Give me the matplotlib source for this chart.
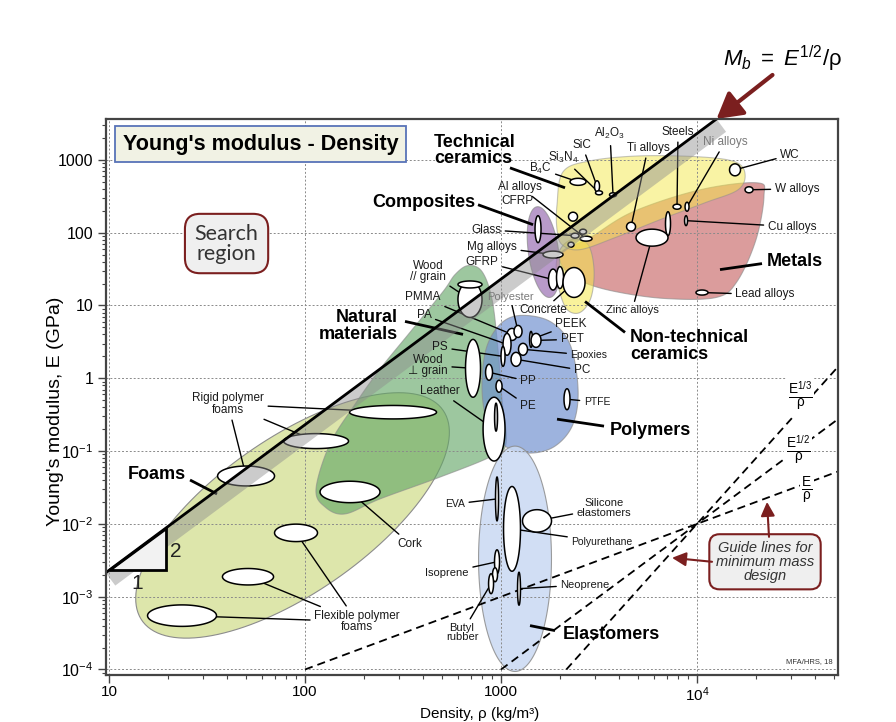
import numpy as np
import matplotlib
matplotlib.use("Agg")
import matplotlib.pyplot as plt

plt.rcParams['font.family'] = ['Liberation Sans', 'DejaVu Sans']
plt.rcParams['mathtext.fontset'] = 'custom'
plt.rcParams['mathtext.rm'] = 'Liberation Sans'
plt.rcParams['mathtext.it'] = 'Liberation Sans:italic'
plt.rcParams['mathtext.bf'] = 'Liberation Sans:bold'

# ---------------- data: material property bubbles (density kg/m3, modulus GPa) ----------------
mat_names = ["WC", "W alloys", "Lead alloys", "Cu alloys", "Ni alloys", "Steels", "Cast irons",
             "Ti alloys", "Zinc alloys", "Al2O3", "SiC", "Si3N4", "B4C", "Be alloys", "Al alloys",
             "Glass", "Al-SiC", "Mg-Zr", "Mg alloys", "CFRP", "GFRP", "GFRP-2", "Concrete",
             "Wood //", "Wood // end", "PMMA", "PA", "Polyester", "PEEK", "PET", "Epoxies", "PC",
             "PS", "PP", "PE", "PTFE", "Wood ⊥", "Leather", "Leather core", "Rigid foam A",
             "Rigid foam B", "Rigid foam C", "Cork", "Flexible foam A", "Flexible foam B",
             "Flexible foam C", "EVA", "Polyurethane", "Silicone elastomers", "Isoprene",
             "Natural rubber", "Butyl rubber", "Neoprene"]
mat_rho_lo = [14650, 17580, 9880, 8640, 8690, 7545, 6905, 4370, 4885, 3578, 3000, 3035, 2250, 2210,
              2531, 2276, 2515, 2197, 1638, 1491, 1747, 1919, 2072, 603, 603, 1073, 1024, 1165, 1398,
              1423, 1228, 1125, 1000, 834, 943, 2096, 659, 810, 927, 168.7, 77.7, 35.8, 119.3, 69.9,
              37.9, 15.72, 937.4, 1030, 1287, 926.5, 905, 864, 1214]
mat_rho_hi = [16670, 19310, 11380, 8945, 9105, 8285, 7325, 4857, 7112, 3885, 3182, 3295, 2715, 2457,
              2913, 2500, 2731, 2357, 2072, 1600, 1943, 2084, 2683, 800, 800, 1207, 1125, 1280, 1448,
              1600, 1365, 1265, 1048, 905, 1012, 2249, 786, 1048, 960, 468.8, 166.7, 69.9, 241.3, 115.8,
              69.1, 35.35, 971.2, 1257, 1810, 982.7, 960, 916, 1257]
mat_E_lo = [604, 353, 13.9, 125, 197, 210, 91, 105, 65.3, 311, 365, 331, 447, 144, 76.5, 84.1, 95.4,
            63.3, 44.8, 72.9, 16.3, 17.1, 12.9, 6.85, 17.4, 3.31, 2.07, 3.64, 2.66, 2.66, 2.07, 1.46,
            1.46, 0.939, 0.643, 0.370, 0.549, 0.0730, 0.188, 0.2765, 0.1082, 0.0332, 0.01955,
            0.005711, 0.001449, 0.000391, 0.011, 0.002235, 0.00771, 0.002066, 0.001605, 0.0011,
            0.000765]
mat_E_hi = [882, 427, 16.3, 171, 262, 246, 194, 139, 111.7, 353, 516, 376, 558, 191, 89.5, 98.4,
            111.7, 74.1, 55.8, 171, 31.6, 34.2, 33.2, 21.3, 21.7, 4.84, 4.13, 5.32, 4.40, 4.13, 3.02,
            2.27, 2.74, 1.555, 0.939, 0.718, 3.42, 0.549, 0.455, 0.4233, 0.1737, 0.0623, 0.03853,
            0.009922, 0.002438, 0.000771, 0.04405, 0.03264, 0.01567, 0.004404, 0.002496, 0.002066,
            0.002166]

# ---------------- data: family envelopes ----------------
natural_rho = [583, 679, 800, 900, 965, 1012, 1060, 879, 489, 241, 160, 126.5, 113.8, 134, 180, 241, 343, 506]
natural_E = [26.6, 35.3, 29.2, 12.1, 2.50, 0.516, 0.125, 0.0828, 0.0440, 0.0220, 0.0137, 0.0171,
             0.0302, 0.125, 0.440, 1.33, 4.27, 15.5]
polymers_rho = [988, 1250, 1778, 2249, 2472, 2330, 1886, 1406, 1048, 858.5, 800, 838.4]
polymers_E = [5.49, 7.29, 6.04, 2.92, 0.707, 0.234, 0.117, 0.0939, 0.117, 0.234, 0.707, 2.50]
metals_rho = [2048, 2846, 4716, 10360, 20240, 21970, 20000, 16000, 12500, 6866, 3815, 2590, 2072]
metals_E = [54.9, 85.4, 194, 388, 484, 321, 80.2, 21.3, 12.87, 12.47, 15.55, 21.3, 33.2]
techcer_rho = [1931, 2072, 2846, 5120, 10360, 15630, 17580, 16190, 10990, 6475, 3815, 2530, 2048, 1931]
techcer_E = [241.9, 684.7, 969, 1134, 1099, 939, 643, 388, 257.6, 150.7, 85.4, 58.5, 68.5, 109.9]
nontech_rho = [2000, 2302, 2779, 2982, 2879, 2530, 2172, 1977, 1909]
nontech_E = [58.5, 80.2, 68.5, 31.1, 12.87, 8.02, 8.81, 16.57, 33.2]
foams_tip_rho = [14.74, 506]
foams_tip_E = [4.69e-4, 0.364]
composites_tip_rho = [1527, 1778]
composites_tip_E = [227, 12.9]
elastomers_rho = [768, 1809]
elastomers_E = [9.39e-5, 0.117]

# ---------------- data: material labels ----------------
lab_text = ["WC", "W alloys", "Cu alloys", "Lead alloys", "Ni alloys", "Steels", "Ti alloys",
            "Al$_2$O$_3$", "SiC", "Si$_3$N$_4$", "B$_4$C", "Al alloys", "CFRP", "Glass", "Mg alloys",
            "GFRP", "Wood\n// grain", "PMMA", "PA", "PS", "Wood\n⊥ grain", "Leather", "Polyester",
            "Concrete", "PEEK", "PET", "Epoxies", "PC", "PP", "PE", "PTFE", "Rigid polymer\nfoams",
            "Cork", "Flexible polymer\nfoams", "EVA", "Silicone\nelastomers", "Polyurethane",
            "Isoprene", "Neoprene", "Butyl\nrubber", "Zinc alloys"]
lab_rho = [29820, 32370, 30520, 22230, 13900, 8000, 5623, 3598, 2590, 2072, 1581, 1250, 1207, 838.4,
           900, 800, 424.2, 400, 404.7, 488.5, 424.2, 488.5, 1111, 1638, 2276, 2302, 2812, 2590, 1373,
           1373, 3089, 40.47, 343.4, 184.2, 582.6, 3354, 3276, 530.4, 2683, 632.4, 4660]
lab_E = [1171, 400.6, 120.9, 14.15, 1764, 2419, 1460, 2271, 1605, 1065, 752, 426.7, 274.4, 109.9,
         64.3, 40.06, 29.22, 12.87, 7.29, 2.659, 1.507, 0.6636, 13.28, 8.54, 5.49, 3.42, 2.066, 1.287,
         0.9097, 0.4135, 0.469, 0.4404, 0.005321, 0.0004545, 0.01879, 0.01657, 0.005666, 0.002132,
         0.00146, 0.000321, 8.54]
lab_targets = [["WC"], ["W alloys"], ["Cu alloys"], ["Lead alloys"], ["Ni alloys"], ["Steels"],
               ["Ti alloys"], ["Al2O3"], ["SiC"], ["Si3N4"], ["B4C"], ["Al alloys"], [], ["Glass"],
               ["Mg alloys"], ["GFRP"], ["Wood //"], ["PMMA"], ["PA"], ["PS"], ["Wood ⊥"], ["Leather"],
               ["Polyester"], ["Concrete"], ["PEEK"], ["PET"], ["Epoxies"], ["PC"], ["PP"], ["PE"],
               ["PTFE"], ["Rigid foam A", "Rigid foam B", "Rigid foam C"], ["Cork"],
               ["Flexible foam A", "Flexible foam B", "Flexible foam C"], ["EVA"],
               ["Silicone elastomers"], ["Polyurethane"], ["Isoprene"], ["Neoprene"],
               ["Butyl rubber"], ["Zinc alloys"]]
lab_size = [8.5, 8.5, 8.5, 8.5, 8.5, 8.5, 8.5, 8.5, 8.5, 8.5, 8.5, 8.5, 8.5, 8.5, 8.5, 8.5, 8.5, 8.5,
            8.5, 8.5, 8.5, 8.5, 8, 8.5, 8.5, 8.5, 7.5, 8.5, 8.5, 8.5, 7.5, 8.5, 8.5, 8.5, 7.5, 8, 7.5,
            8, 8, 8, 8]
gray_labels = ["Ni alloys", "Polyester"]

# ---------------- data: family labels ----------------
fam_text = ["Technical\nceramics", "Composites", "Metals", "Natural\nmaterials",
            "Non-technical\nceramics", "Polymers", "Foams", "Elastomers"]
fam_rho = [455.1, 404.7, 31430, 298.2, 4551, 5757, 17.58, 3663]
fam_E = [1349, 257.6, 40.06, 5.24, 2.787, 0.1940, 0.0484, 0.0003016]
fam_ha = ["left", "center", "center", "right", "left", "center", "center", "center"]
fam_lead_rho = [(1111, 2121), (763.3, 1457), (21460, 13100), (323.7, 640), (4292, 2683),
                (3354, 1931), (25.9, 35.56), (1886, 1406)]
fam_lead_E = [(777, 413.5), (241.9, 128.7), (37.6, 31.1), (6.04, 4.007), (4.267, 11.34),
              (0.2201, 0.2745), (0.04005, 0.02576), (0.000342, 0.0004006)]

# ---------------- data: index lines ----------------
Mb_value = 0.0048              # E^(1/2)/rho of the selection line
Mb_band = 16                   # band width (px)
tri_rho = [10, 19.5]
guide_rho0 = 1e4
guide_E0 = 0.01
guide_slopes = [1, 2, 3]
guide_lab = [r"$\frac{\mathrm{E}}{\mathrm{\rho}}$", r"$\frac{\mathrm{E}^{1/2}}{\mathrm{\rho}}$",
             r"$\frac{\mathrm{E}^{1/3}}{\mathrm{\rho}}$"]
guide_lab_rho = [36410, 32760, 33540]
guide_lab_E = [0.0292, 0.1, 0.5666]

xmin, xmax = 9.62, 52420
ymin, ymax = 8.4e-5, 3644

# ---------------- figure ----------------
fig = plt.figure(figsize=(8.96, 7.22), dpi=100)
ax = fig.add_axes([0.118, 0.0651, 0.8173, 0.7701])
ax.set_xscale('log')
ax.set_yscale('log')
ax.set_xlim(xmin, xmax)
ax.set_ylim(ymin, ymax)


def range_ellipse(rlo, rhi, elo, ehi, n=90):
    t = np.linspace(0, 2 * np.pi, n)
    lx0, lx1 = np.log10(rlo), np.log10(rhi)
    ly0, ly1 = np.log10(elo), np.log10(ehi)
    cx, cy = (lx0 + lx1) / 2, (ly0 + ly1) / 2
    return 10 ** (cx + (lx1 - lx0) / 2 * np.cos(t)), 10 ** (cy + (ly1 - ly0) / 2 * np.sin(t))


def smooth_closed(rhos, Es, per=20):
    P = np.column_stack([np.log10(rhos), np.log10(Es)])
    n = len(P)
    out = []
    for i in range(n):
        p0, p1, p2, p3 = P[i - 1], P[i], P[(i + 1) % n], P[(i + 2) % n]
        for t in np.linspace(0, 1, per, endpoint=False):
            out.append(0.5 * (2 * p1 + (-p0 + p2) * t + (2 * p0 - 5 * p1 + 4 * p2 - p3) * t ** 2
                              + (-p0 + 3 * p1 - 3 * p2 + p3) * t ** 3))
    out = np.array(out)
    return 10 ** out[:, 0], 10 ** out[:, 1]


def tilted(tr, te, ratio, n=140):
    p = ax.transData.transform(np.column_stack([tr, te]))
    c = p.mean(axis=0)
    a = (p[1] - p[0]) / 2
    b = ratio * np.array([-a[1], a[0]])
    t = np.linspace(0, 2 * np.pi, n)
    pts = c + np.outer(np.cos(t), a) + np.outer(np.sin(t), b)
    d = ax.transData.inverted().transform(pts)
    return d[:, 0], d[:, 1]


edge = dict(edgecolor='#8c8c8c', linewidth=0.8)
x, y = tilted(foams_tip_rho, foams_tip_E, 0.42)
ax.fill(x, y, facecolor='#dde6ab', zorder=1.0, **edge)
x, y = smooth_closed(natural_rho, natural_E)
ax.fill(x, y, facecolor='#62a664', alpha=0.62, zorder=1.1, **edge)
x, y = smooth_closed(polymers_rho, polymers_E)
ax.fill(x, y, facecolor='#6f8fcf', alpha=0.68, zorder=1.2, **edge)
x, y = range_ellipse(elastomers_rho[0], elastomers_rho[1], elastomers_E[0], elastomers_E[1], 160)
ax.fill(x, y, facecolor='#c9d9f3', alpha=0.85, zorder=1.3, **edge)
x, y = smooth_closed(metals_rho, metals_E)
ax.fill(x, y, facecolor='#c6605f', alpha=0.62, zorder=1.4, **edge)
x, y = smooth_closed(nontech_rho, nontech_E)
ax.fill(x, y, facecolor='#f5e84a', alpha=0.55, zorder=1.5, **edge)
x, y = smooth_closed(techcer_rho, techcer_E)
ax.fill(x, y, facecolor='#f5e84a', alpha=0.5, zorder=1.6, **edge)
x, y = tilted(composites_tip_rho, composites_tip_E, 0.33)
ax.fill(x, y, facecolor='#9b6fb3', alpha=0.7, zorder=1.7, **edge)

# grid
for v in [10, 100, 1000, 1e4]:
    ax.axvline(v, color='#8a8a8a', lw=0.7, ls=(0, (2, 2)), zorder=2.0)
for v in [1e-4, 1e-3, 1e-2, 1e-1, 1, 10, 100, 1000]:
    ax.axhline(v, color='#8a8a8a', lw=0.7, ls=(0, (2, 2)), zorder=2.0)

# material bubbles
centers = {}
for nm, rl, rh, el, eh in zip(mat_names, mat_rho_lo, mat_rho_hi, mat_E_lo, mat_E_hi):
    x, y = range_ellipse(rl, rh, el, eh)
    fc = '#d8d8d8' if nm == "Leather core" else 'white'
    ax.fill(x, y, facecolor=fc, edgecolor='black', linewidth=1.1, zorder=3)
    centers[nm] = (np.sqrt(rl * rh), np.sqrt(el * eh))

# material labels + leaders
for txt, r, e, tg, fs in zip(lab_text, lab_rho, lab_E, lab_targets, lab_size):
    col = '#7a7a7a' if txt in gray_labels else '#1a1a1a'
    ax.text(r, e, txt, ha='center', va='center', fontsize=fs, color=col, zorder=7,
            linespacing=0.95)
    for t in tg:
        ax.annotate(txt, xy=centers[t], xytext=(r, e), ha='center', va='center', fontsize=fs,
                    color='none', linespacing=0.95, zorder=2.6,
                    arrowprops=dict(arrowstyle='-', lw=1.0, color='black', shrinkA=1, shrinkB=0))

# family labels
for txt, r, e, ha, lr, le in zip(fam_text, fam_rho, fam_E, fam_ha, fam_lead_rho, fam_lead_E):
    ax.text(r, e, txt, ha=ha, va='center', fontsize=13, fontweight='bold', color='black',
            zorder=7, linespacing=0.95, multialignment=ha if ha != 'center' else 'center')
    ax.plot(lr, le, color='black', lw=2.0, zorder=2.7, solid_capstyle='butt')

# selection line M_b and band
rho_end = np.sqrt(ymax) / Mb_value
E_start = (Mb_value * xmin) ** 2
p = ax.transData.transform([[xmin, E_start], [rho_end, ymax]])
u = (p[1] - p[0]) / np.hypot(*(p[1] - p[0]))
nrm = np.array([u[1], -u[0]])
w = Mb_band * fig.dpi / 100
poly = np.array([p[0], p[1], p[1] + w * nrm, p[0] + w * nrm])
d = ax.transData.inverted().transform(poly)
ax.fill(d[:, 0], d[:, 1], facecolor='#8c8c8c', alpha=0.45, edgecolor='none', zorder=5)
ax.plot([xmin, rho_end], [E_start, ymax], color='black', lw=2.0, zorder=6.5)

# slope triangle
tE = [(Mb_value * tri_rho[0]) ** 2, (Mb_value * tri_rho[1]) ** 2]
ax.fill([tri_rho[0], tri_rho[1], tri_rho[1]], [tE[0], tE[0], tE[1]], facecolor='#f2f2f2',
        edgecolor='black', lw=2.0, zorder=6)
ax.text(13.9, 0.001506, "1", fontsize=15, ha='center', va='center', color='#222', zorder=7)
ax.text(21.97, 0.004134, "2", fontsize=15, ha='center', va='center', color='#222', zorder=7)

# guide lines
for s, lab, lr, le in zip(guide_slopes, guide_lab, guide_lab_rho, guide_lab_E):
    r0 = guide_rho0 * (1e-4 / guide_E0) ** (1 / s)
    rr = np.array([r0, xmax])
    ax.plot(rr, guide_E0 * (rr / guide_rho0) ** s, color='black', lw=1.3,
            dashes=(4.5, 2.8), zorder=2.8)
    ax.text(lr, le, lab, fontsize=14, ha='center', va='center', zorder=7,
            bbox=dict(facecolor='white', edgecolor='none', pad=1))

# boxes
dred = '#7b1f1f'
ax.text(0.2114, 0.955, "Young's modulus - Density", transform=ax.transAxes, fontsize=15.5,
        fontweight='bold', ha='center', va='center', zorder=8,
        bbox=dict(boxstyle='square,pad=0.36', facecolor='#f1f2e4', edgecolor='#5873b8', lw=1.3))
ax.text(0.165, 0.776, "Search\nregion", transform=ax.transAxes, fontsize=15.5, ha='center',
        va='center', color='#333', family=['Lato', 'DejaVu Sans'], linespacing=1.0, zorder=8,
        bbox=dict(boxstyle='round,pad=0.45,rounding_size=0.7', facecolor='#efefef',
                  edgecolor=dred, lw=1.5))
ax.text(22230, 0.003016, "Guide lines for\nminimum mass\ndesign", fontsize=10.5, style='italic',
        ha='center', va='center', color='#333', zorder=8, linespacing=1.0,
        bbox=dict(boxstyle='round,pad=0.45,rounding_size=0.7', facecolor='#efefef',
                  edgecolor=dred, lw=1.5))
arrow_kw = dict(arrowstyle='-|>,head_length=0.6,head_width=0.3', color=dred, lw=1.5,
                shrinkA=0, shrinkB=0, mutation_scale=14)
ax.annotate('', xy=(22760, 0.02002), xytext=(23300, 0.006637), arrowprops=arrow_kw, zorder=8)
ax.annotate('', xy=(7455, 0.00342), xytext=(11930, 0.003016), arrowprops=arrow_kw, zorder=8)

# M_b arrow and label
ax.annotate('', xy=(rho_end, ymax), xytext=(40.3, 31.7), textcoords='offset points',
            arrowprops=dict(arrowstyle='-|>,head_length=0.7,head_width=0.4', color=dred, lw=3,
                            shrinkA=0, shrinkB=0, mutation_scale=22),
            annotation_clip=False, zorder=9)
ax.annotate(r'$M_b\ =\ E^{1/2}/\mathrm{\rho}$', xy=(rho_end, ymax), xytext=(47.5, 43.2),
            textcoords='offset points', ha='center', va='center', fontsize=16,
            annotation_clip=False)

ax.text(0.992, 0.018, "MFA/HRS, 18", transform=ax.transAxes, fontsize=5.5, ha='right',
        va='bottom', color='#333', zorder=8)

# axes styling
for sp in ax.spines.values():
    sp.set_color('#444')
    sp.set_linewidth(1.6)
    sp.set_zorder(10)
ax.set_xticks([10, 100, 1000, 1e4])
ax.set_xticklabels(["10", "100", "1000", "10$^4$"])
ax.set_yticks([1e-4, 1e-3, 1e-2, 1e-1, 1, 10, 100, 1000])
ax.set_yticklabels(["10$^{-4}$", "10$^{-3}$", "10$^{-2}$", "10$^{-1}$", "1", "10", "100", "1000"])
ax.tick_params(which='major', direction='out', length=6, width=1.0, color='#444',
               labelsize=11.5, pad=3)
ax.tick_params(axis='x', which='major', pad=1.5, labelsize=11)
ax.tick_params(which='minor', direction='out', length=3, width=0.8, color='#444')
ax.tick_params(axis='x', which='both', top=False)
ax.tick_params(axis='y', which='both', right=False)

fig.text(55 / 896, 1 - 411 / 722, "Young's modulus, E (GPa)", rotation=90, ha='center',
         va='center', fontsize=14)
fig.text(480 / 896, 1 / 722, "Density, ρ (kg/m³)", ha='center', va='bottom', fontsize=11)

fig.savefig("out.png", dpi=100)
